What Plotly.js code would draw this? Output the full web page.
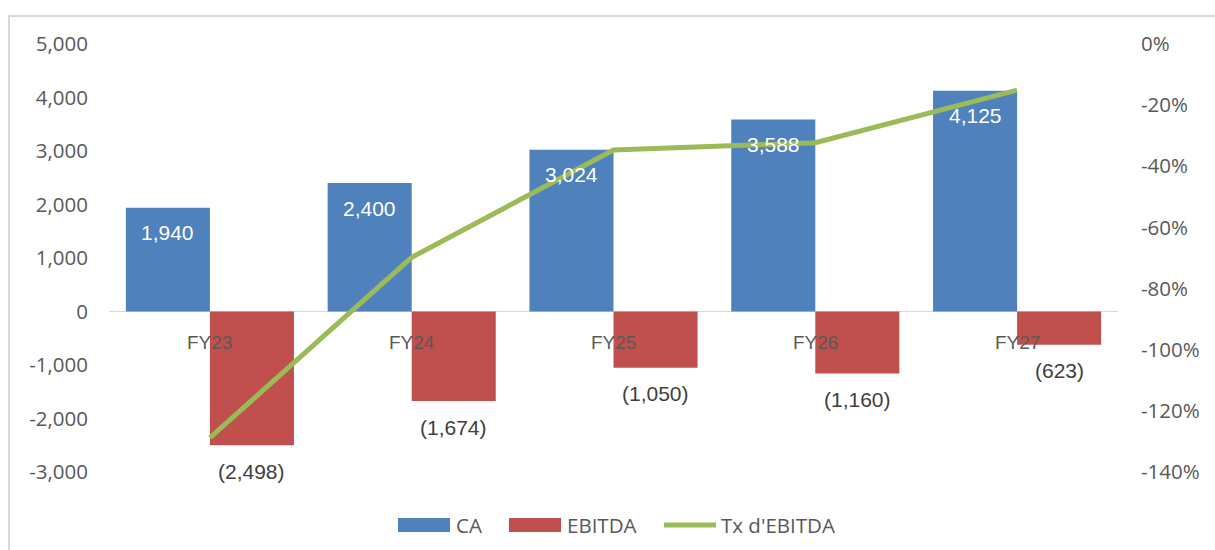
<!DOCTYPE html>
<html>
<head>
<meta charset="utf-8">
<script src="https://cdn.plot.ly/plotly-3.0.1.min.js"></script>
<style>
  html, body { margin: 0; padding: 0; width: 1215px; height: 550px; overflow: hidden; background: #ffffff; }
  #frame { position: absolute; left: 8px; top: 15px; width: 1400px; height: 700px; border-left: 2px solid #d9d9d9; border-top: 2px solid #d9d9d9; box-sizing: border-box; }
  #chart { position: absolute; left: 0; top: 0; width: 1215px; height: 550px; }
</style>
</head>
<body>
<div id="frame"></div>
<div id="chart"></div>
<script>
const categories = ['FY23', 'FY24', 'FY25', 'FY26', 'FY27'];
const caValues = [1940, 2400, 3024, 3588, 4125];
const ebitdaValues = [-2498, -1674, -1050, -1160, -623];
const txEbitda = [-128.8, -69.8, -34.7, -32.3, -15.1];
const leftTickVals = [-3000, -2000, -1000, 0, 1000, 2000, 3000, 4000, 5000];
const leftTickText = ['-3,000', '-2,000', '-1,000', '0', '1,000', '2,000', '3,000', '4,000', '5,000'];
const rightTickVals = [-140, -120, -100, -80, -60, -40, -20, 0];
const rightTickText = ['-140%', '-120%', '-100%', '-80%', '-60%', '-40%', '-20%', '0%'];
const seriesNames = ['CA', 'EBITDA', "Tx d'EBITDA"];

const BLUE = '#4f81bd', RED = '#c0504d', GREEN = '#9bbb59', GRAY = '#595959';
const fmt = v => Math.abs(v).toLocaleString('en-US');

const traces = [
  { type: 'bar', name: seriesNames[0], x: categories, y: caValues, marker: { color: BLUE }, showlegend: false, hoverinfo: 'none' },
  { type: 'bar', name: seriesNames[1], x: categories, y: ebitdaValues, marker: { color: RED }, showlegend: false, hoverinfo: 'none' },
  { type: 'scatter', mode: 'lines', name: seriesNames[2], x: categories, y: txEbitda, yaxis: 'y2',
    line: { color: GREEN, width: 5 }, showlegend: false, hoverinfo: 'none' }
];

const annotations = [];
categories.forEach((c, i) => {
  annotations.push({ x: c, y: caValues[i], xref: 'x', yref: 'y', xshift: -42, yshift: -25,
    text: fmt(caValues[i]), showarrow: false, yanchor: 'middle',
    font: { family: 'Liberation Sans, Arial', size: 21, color: '#ffffff' } });
  annotations.push({ x: c, y: ebitdaValues[i], xref: 'x', yref: 'y', xshift: 42, yshift: -26,
    text: '(' + fmt(ebitdaValues[i]) + ')', showarrow: false, yanchor: 'middle',
    font: { family: 'Liberation Sans, Arial', size: 21, color: '#404040' } });
  annotations.push({ x: c, y: 0, xref: 'x', yref: 'y', yshift: -31,
    text: c, showarrow: false, yanchor: 'middle',
    font: { family: 'Liberation Sans, Arial', size: 19, color: GRAY } });
});

// custom legend
const W = 1215, H = 550, ml = 109, mr = 97, mt = 44, mb = 78;
const pw = W - ml - mr, ph = H - mt - mb;
const px = x => (x - ml) / pw;
const py = y => (H - mb - y) / ph;
const shapes = [
  { type: 'rect', xref: 'paper', yref: 'paper', x0: px(398), x1: px(450), y0: py(532), y1: py(518), fillcolor: BLUE, line: { width: 0 } },
  { type: 'rect', xref: 'paper', yref: 'paper', x0: px(509), x1: px(561), y0: py(532), y1: py(518), fillcolor: RED, line: { width: 0 } },
  { type: 'line', xref: 'paper', yref: 'paper', x0: px(664), x1: px(716), y0: py(525), y1: py(525), line: { color: GREEN, width: 5 } }
];
const legendFont = { family: 'Open Sans', size: 20.5, color: GRAY };
[[454, seriesNames[0]], [565, seriesNames[1]], [719, seriesNames[2]]].forEach(([x, t]) => {
  annotations.push({ xref: 'paper', yref: 'paper', x: px(x), y: py(525), xanchor: 'left', yanchor: 'middle',
    text: t, showarrow: false, font: legendFont });
});

const tickFont = { family: 'Open Sans', size: 20.5, color: GRAY };
const layout = {
  width: W, height: H,
  margin: { l: ml, r: mr, t: mt, b: mb, pad: 0 },
  paper_bgcolor: 'rgba(0,0,0,0)', plot_bgcolor: 'rgba(0,0,0,0)',
  barmode: 'group', bargap: 0.167, bargroupgap: 0,
  showlegend: false,
  xaxis: { type: 'category', showticklabels: false, showline: false, showgrid: false, zeroline: false, ticks: '' },
  yaxis: { range: [-3000, 5000], tickvals: leftTickVals, ticktext: leftTickText, showgrid: false,
    zeroline: true, zerolinecolor: '#d9d9d9', zerolinewidth: 1.5, showline: false, ticks: '',
    tickfont: tickFont, ticklabelstandoff: 20 },
  yaxis2: { overlaying: 'y', side: 'right', range: [-140, 0], tickvals: rightTickVals, ticktext: rightTickText,
    showgrid: false, zeroline: false, showline: false, ticks: '', tickfont: tickFont, ticklabelstandoff: 22 },
  annotations: annotations,
  shapes: shapes
};

Plotly.newPlot('chart', traces, layout, { displayModeBar: false, staticPlot: true });
</script>
</body>
</html>
